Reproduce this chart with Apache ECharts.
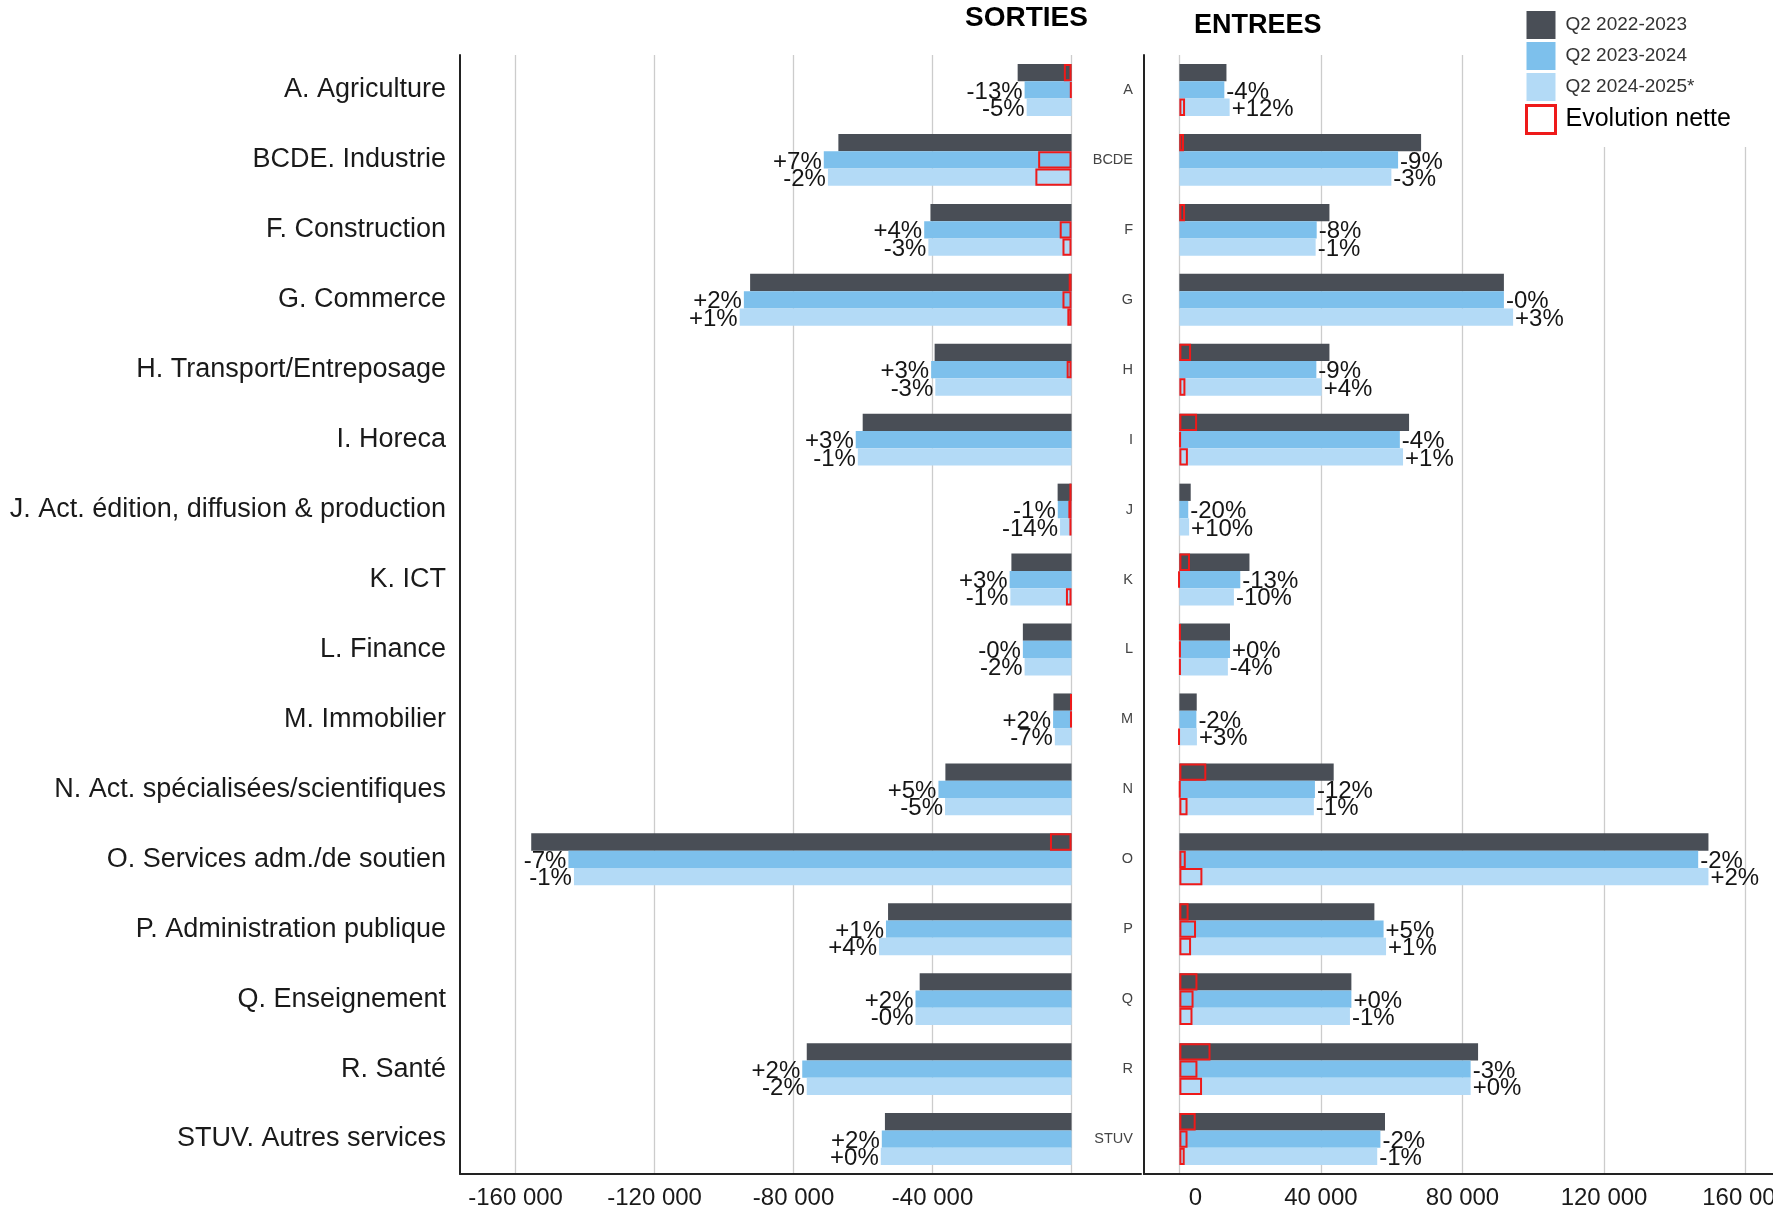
<!DOCTYPE html>
<html>
<head>
<meta charset="utf-8">
<title>Sorties / Entrees</title>
<script src="https://cdn.jsdelivr.net/npm/echarts@6/dist/echarts.min.js"></script>
<style>
  html, body { margin: 0; padding: 0; background: #fff; }
  #chart { width: 1773px; height: 1212px; }
</style>
</head>
<body>
<div id="chart"></div>
<script>
const categories = ['A. Agriculture', 'BCDE. Industrie', 'F. Construction', 'G. Commerce',
  'H. Transport/Entreposage', 'I. Horeca', 'J. Act. édition, diffusion & production', 'K. ICT',
  'L. Finance', 'M. Immobilier', 'N. Act. spécialisées/scientifiques', 'O. Services adm./de soutien',
  'P. Administration publique', 'Q. Enseignement', 'R. Santé', 'STUV. Autres services']
const codes = ['A', 'BCDE', 'F', 'G', 'H', 'I', 'J', 'K', 'L', 'M', 'N', 'O', 'P', 'Q', 'R', 'STUV']
const periods = ['Q2 2022-2023', 'Q2 2023-2024', 'Q2 2024-2025*']

// sorties (plotted to the left, so negative)
const sorties1 = [-15500, -67100, -40600, -92500, -39400, -60100, -4000, -17300, -14000, -5200, -36300, -155500, -52800, -43700, -76200, -53700]
const sorties2 = [-13500, -71300, -42400, -94300, -40400, -62100, -3950, -17800, -14000, -5300, -38300, -144800, -53400, -44900, -77500, -54600]
const sorties3 = [-12900, -70100, -41200, -95500, -39200, -61500, -3300, -17600, -13500, -4800, -36400, -143200, -55400, -44900, -76200, -54900]

// entrees
const entrees1 = [13300, 68300, 42400, 91700, 42400, 64900, 3200, 19800, 14300, 4900, 43600, 149500, 55100, 48600, 84400, 58100]
const entrees2 = [12700, 61800, 38800, 91700, 38700, 62300, 2500, 17200, 14300, 4800, 38300, 146600, 57700, 48600, 82300, 56800]
const entrees3 = [14200, 59900, 38500, 94300, 40200, 63200, 2750, 15400, 13700, 4950, 38000, 149500, 58400, 48200, 82300, 55900]

// evolution nette, as drawn in each panel (null = no box)
const netSorties1 = [-2200, null, null, -800, null, null, -600, null, null, -300, null, -6200, null, null, null, null]
const netSorties2 = [-400, -9600, -3400, -2600, -1400, null, -900, null, null, -300, null, null, null, null, null, null]
const netSorties3 = [null, -10400, -2600, -1200, null, null, -600, -1600, null, null, null, null, null, null, null, null]
const netEntrees1 = [null, 1300, 1600, null, 3300, 5000, null, 3000, 300, null, 7600, null, 2600, 5100, 8800, 4600]
const netEntrees2 = [null, null, null, null, null, 400, null, -200, 300, null, 200, 1800, 4700, 4000, 5100, 2300]
const netEntrees3 = [1600, null, null, null, 1700, 2400, null, null, 300, -200, 2300, 6500, 3300, 3700, 6400, 1500]

// evolution labels
const pctSorties2 = ['-13%', '+7%', '+4%', '+2%', '+3%', '+3%', '-1%', '+3%', '-0%', '+2%', '+5%', '-7%', '+1%', '+2%', '+2%', '+2%']
const pctSorties3 = ['-5%', '-2%', '-3%', '+1%', '-3%', '-1%', '-14%', '-1%', '-2%', '-7%', '-5%', '-1%', '+4%', '-0%', '-2%', '+0%']
const pctEntrees2 = ['-4%', '-9%', '-8%', '-0%', '-9%', '-4%', '-20%', '-13%', '+0%', '-2%', '-12%', '-2%', '+5%', '+0%', '-3%', '-2%']
const pctEntrees3 = ['+12%', '-3%', '-1%', '+3%', '+4%', '+1%', '+10%', '-10%', '-4%', '+3%', '-1%', '+2%', '+1%', '-1%', '+0%', '-1%']

const leftTicks = [-160000, -120000, -80000, -40000]
const rightTicks = [0, 40000, 80000, 120000, 160000]

const colors = ['#494e56', '#7dc0ec', '#b3daf6']
const red = '#ee1a1a'
const font = "'Liberation Sans', Arial, sans-serif"
const barW = 17.3

function fmt(v) {
  return (v < 0 ? '-' : '') + String(Math.abs(v)).replace(/\B(?=(\d{3})+(?!\d))/g, ' ')
}

// split lines only on the labelled values
function gridColors(min, max, step, values) {
  let out = []
  for (let v = min; v <= max; v += step) {
    out.push(values.includes(v) ? '#cccccc' : 'rgba(0,0,0,0)')
  }
  return out
}

const chart = echarts.init(document.getElementById('chart'))

function barSeries(name, data, xi, yi, color, labels, pos) {
  return {
    name: name,
    type: 'bar',
    xAxisIndex: xi,
    yAxisIndex: yi,
    data: data,
    barWidth: barW,
    barGap: '0%',
    itemStyle: {color: color},
    label: {
      show: !!labels,
      position: pos,
      distance: 2,
      offset: [0, 2],
      fontFamily: font,
      fontSize: 24,
      color: '#151515',
      formatter: p => labels ? labels[p.dataIndex] : ''
    }
  }
}

function netSeries(data, xi, yi) {
  return {
    name: 'Evolution nette',
    type: 'bar',
    xAxisIndex: xi,
    yAxisIndex: yi,
    data: data,
    barWidth: barW,
    barGap: '0%',
    z: 5,
    itemStyle: {color: 'rgba(0,0,0,0)', borderColor: red, borderWidth: 2}
  }
}

const catAxis = {
  type: 'category',
  inverse: true,
  axisLine: {onZero: false, lineStyle: {color: '#222', width: 2}},
  axisTick: {length: 7, lineStyle: {color: '#222'}},
  splitLine: {show: false}
}

let option = {
  animation: false,
  backgroundColor: '#fff',
  textStyle: {fontFamily: font},
  title: [
    {text: 'SORTIES', left: 965, top: 4, padding: 0,
      textStyle: {fontFamily: font, fontSize: 28, fontWeight: 'bold', color: '#000'}},
    {text: 'ENTREES', left: 1194, top: 12, padding: 0,
      textStyle: {fontFamily: font, fontSize: 27, fontWeight: 'bold', color: '#000'}}
  ],
  legend: {
    orient: 'vertical',
    left: 1510,
    top: 0,
    padding: [11, 50, 12, 15],
    backgroundColor: '#fff',
    itemWidth: 29,
    itemHeight: 28,
    itemGap: 3,
    icon: 'rect',
    selectedMode: false,
    textStyle: {fontFamily: font, fontSize: 19, color: '#333', padding: [0, 0, 0, 5]},
    data: [
      {name: periods[0]},
      {name: periods[1]},
      {name: periods[2]},
      {name: 'Evolution nette', itemStyle: {color: 'rgba(0,0,0,0)', borderColor: red, borderWidth: 3},
        textStyle: {fontSize: 25, color: '#000'}}
    ]
  },
  grid: [
    {left: 460, top: 55, width: 681, height: 1119, outerBoundsMode: 'none'},
    {left: 1144, top: 55, width: 637, height: 1119, outerBoundsMode: 'none'}
  ],
  xAxis: [
    {
      type: 'value', gridIndex: 0, min: -176000, max: 20000, interval: 8000,
      axisLine: {show: true, onZero: false, lineStyle: {color: '#222', width: 2}},
      axisTick: {show: false},
      axisLabel: {
        fontFamily: font, fontSize: 24, color: '#1a1a1a', margin: 12,
        formatter: v => leftTicks.includes(v) ? fmt(v) : ''
      },
      splitLine: {show: true, lineStyle: {width: 1.3, color: gridColors(-176000, 20000, 8000, leftTicks.concat([0]))}}
    },
    {
      type: 'value', gridIndex: 1, min: -10000, max: 170000, interval: 5000,
      axisLine: {show: true, onZero: false, lineStyle: {color: '#222', width: 2}},
      axisTick: {show: false},
      axisLabel: {
        fontFamily: font, fontSize: 24, color: '#1a1a1a', margin: 12,
        formatter: v => v === 0 ? '{z|0}' : (rightTicks.includes(v) ? fmt(v) : ''),
        rich: {z: {fontFamily: font, fontSize: 24, color: '#1a1a1a', padding: [0, 0, 0, 32]}}
      },
      splitLine: {show: true, lineStyle: {width: 1.3, color: gridColors(-10000, 170000, 5000, rightTicks)}}
    }
  ],
  yAxis: [
    Object.assign({}, catAxis, {gridIndex: 0, data: categories,
      axisLabel: {fontFamily: font, fontSize: 27, color: '#1a1a1a', margin: 14}}),
    {type: 'category', gridIndex: 0, inverse: true, data: categories, show: false},
    Object.assign({}, catAxis, {gridIndex: 1, data: codes, axisTick: {length: 6, lineStyle: {color: '#333'}},
      axisLabel: {fontFamily: font, fontSize: 14.5, color: '#444', margin: 11}}),
    {type: 'category', gridIndex: 1, inverse: true, data: codes, show: false}
  ],
  series: [
    barSeries(periods[0], sorties1, 0, 0, colors[0], null, 'left'),
    barSeries(periods[1], sorties2, 0, 0, colors[1], pctSorties2, 'left'),
    barSeries(periods[2], sorties3, 0, 0, colors[2], pctSorties3, 'left'),
    netSeries(netSorties1, 0, 1),
    netSeries(netSorties2, 0, 1),
    netSeries(netSorties3, 0, 1),
    barSeries(periods[0], entrees1, 1, 2, colors[0], null, 'right'),
    barSeries(periods[1], entrees2, 1, 2, colors[1], pctEntrees2, 'right'),
    barSeries(periods[2], entrees3, 1, 2, colors[2], pctEntrees3, 'right'),
    netSeries(netEntrees1, 1, 3),
    netSeries(netEntrees2, 1, 3),
    netSeries(netEntrees3, 1, 3)
  ]
}

chart.setOption(option)
</script>
</body>
</html>
